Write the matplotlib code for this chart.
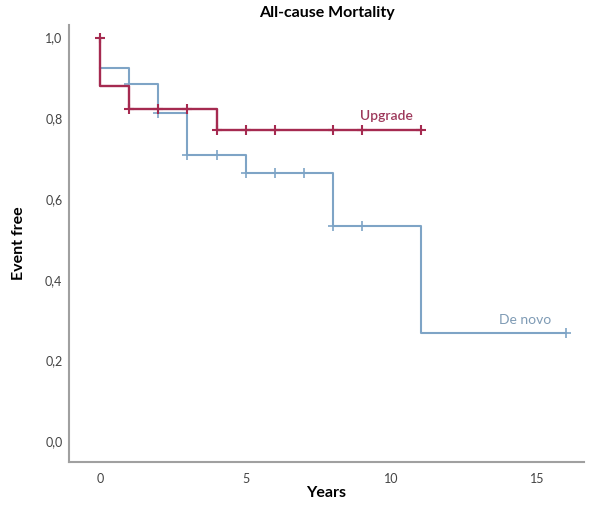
import matplotlib
matplotlib.use('Agg')
import matplotlib.pyplot as plt
from matplotlib.ticker import FuncFormatter

plt.rcParams['font.family'] = ['Lato', 'DejaVu Sans']

# Kaplan-Meier steps (time, survival)
upgradeTime = [0, 0, 1, 4, 11]
upgradeSurv = [1.0, 0.880, 0.822, 0.771, 0.771]
upgradeCensT = [0, 1, 2, 3, 4, 5, 6, 8, 9, 11]
upgradeCensS = [1.0, 0.822, 0.822, 0.822, 0.771, 0.771, 0.771, 0.771, 0.771, 0.771]

denovoTime = [0, 1, 2, 3, 5, 8, 11, 16]
denovoSurv = [0.925, 0.886, 0.812, 0.709, 0.665, 0.533, 0.269, 0.269]
denovoCensT = [1, 2, 3, 4, 5, 6, 7, 8, 9, 16]
denovoCensS = [0.886, 0.812, 0.709, 0.709, 0.665, 0.665, 0.665, 0.533, 0.533, 0.269]

colRed = '#a52a50'
colBlue = '#7ea4c6'

fig = plt.figure(figsize=(5.9, 5.05), dpi=100)
ax = fig.add_axes([0.1175, 0.0857, 0.872, 0.864])

ax.step(denovoTime, denovoSurv, where='post', color=colBlue, lw=1.5)
ax.plot(denovoCensT, denovoCensS, ls='none', marker='+', ms=7, mew=1.2, color=colBlue)
ax.step(upgradeTime, upgradeSurv, where='post', color=colRed, lw=1.7)
ax.plot(upgradeCensT, upgradeCensS, ls='none', marker='+', ms=7, mew=1.5, color=colRed)

ax.text(10.75, 0.79, 'Upgrade', color='#9e3a5c', fontsize=10, fontweight='semibold', ha='right', va='bottom')
ax.text(15.5, 0.285, 'De novo', color='#7f9bb5', fontsize=10, ha='right', va='bottom')

ax.set_xlim(-1.05, 16.6)
ax.set_ylim(-0.0505, 1.03)
ax.set_xticks([0, 5, 10, 15])
ax.set_yticks([0, 0.2, 0.4, 0.6, 0.8, 1.0])
ax.yaxis.set_major_formatter(FuncFormatter(lambda v, p: ('%.1f' % v).replace('.', ',')))
ax.tick_params(length=0, labelsize=9, colors='#444444')
ax.tick_params(axis='y', pad=5)
ax.tick_params(axis='x', pad=8)

for s in ['top', 'right']:
    ax.spines[s].set_visible(False)
for s in ['left', 'bottom']:
    ax.spines[s].set_color('#a0a0a0')
    ax.spines[s].set_linewidth(1.5)

ax.set_title('All-cause Mortality', fontsize=11.5, fontweight='bold', pad=6)
ax.set_xlabel('Years', fontsize=11.5, fontweight='bold', labelpad=1)
ax.set_ylabel('Event free', fontsize=11.5, fontweight='bold', labelpad=14)

fig.savefig('out.png', dpi=100)
